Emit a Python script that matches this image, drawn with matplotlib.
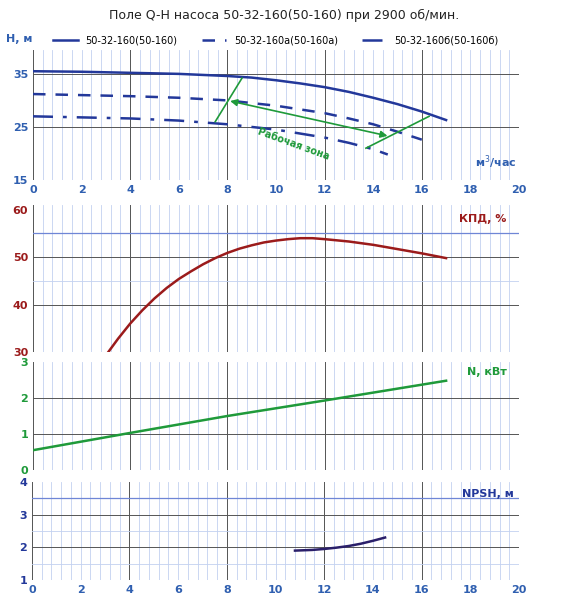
import matplotlib
matplotlib.use("Agg")
import matplotlib.pyplot as plt
import numpy as np

q_h = [0, 2, 4, 6, 8, 9, 10, 11, 12, 13, 14, 15, 16, 17]
h_main = [35.5, 35.4, 35.2, 35.0, 34.6, 34.3, 33.8, 33.2, 32.5, 31.6, 30.5, 29.3, 27.9, 26.3]
q_a = [0, 2, 4, 6, 8, 10, 12, 13, 14, 15, 16]
h_a = [31.2, 31.0, 30.8, 30.5, 30.0, 29.0, 27.6, 26.6, 25.5, 24.1, 22.6]
q_b = [0, 2, 4, 6, 8, 10, 12, 13, 14, 14.6]
h_b = [27.0, 26.8, 26.6, 26.2, 25.5, 24.5, 23.0, 22.0, 20.8, 19.8]
q_eff = [3.1, 3.5, 4, 4.5, 5, 5.5, 6, 6.5, 7, 7.5, 8, 8.5, 9, 9.5, 10, 10.5, 11, 11.5, 12, 13, 14, 15, 16, 17]
eff = [30, 32.8, 36, 38.8, 41.3, 43.5, 45.4, 47.0, 48.5, 49.8, 50.9, 51.8, 52.5, 53.1, 53.5, 53.8, 54.0, 54.0, 53.8, 53.3, 52.6, 51.7, 50.8, 49.8]
q_n = [0, 4, 8, 12, 17]
power = [0.55, 1.03, 1.5, 1.93, 2.48]
q_npsh = [10.8, 11.5, 12, 12.5, 13, 13.5, 14, 14.5]
npsh = [1.9, 1.92, 1.95, 1.99, 2.04, 2.11, 2.2, 2.3]
labels = ["50-32-160(50-160)", "50-32-160а(50-160а)", "50-32-160б(50-160б)"]

blue = "#23389a"; tick_blue = "#2f5fb0"; green = "#1f9a3a"; red = "#9b1b1b"
fig = plt.figure(figsize=(5.69, 6.0), dpi=100)
W = 569; H = 600
def ax_at(top, bot, left=33, right=519):
    return fig.add_axes([left/W, 1-bot/H, (right-left)/W, (bot-top)/H])

def style(ax, ylim, yticks, ymaj, ymin_h, color_lbl):
    ax.set_xlim(0, 20); ax.set_ylim(*ylim)
    ax.set_xticks(np.arange(0, 21, 2))
    ax.set_yticks(yticks)
    for x in np.arange(0, 20.01, 0.4):
        ax.axvline(x, color="#c3d1f0", lw=0.6, zorder=0)
    for x in range(0, 21, 4):
        ax.axvline(x, color="#555555", lw=0.7, zorder=0)
    for y in ymin_h:
        ax.axhline(y, color="#c3d1f0", lw=0.6, zorder=0)
    for y in ymaj:
        ax.axhline(y, color="#555555", lw=0.7, zorder=0)
    ax.tick_params(which="both", length=0, labelsize=8, colors=color_lbl)
    for t in ax.get_xticklabels(): t.set_color(tick_blue); t.set_fontweight("bold")
    for t in ax.get_yticklabels(): t.set_color(color_lbl); t.set_fontweight("bold")
    for s in ax.spines.values(): s.set_visible(False)

ax1 = ax_at(50, 180)
style(ax1, (15, 39.5), [15, 25, 35], [25, 35], [], tick_blue)
ax1.plot(q_h, h_main, color=blue, lw=1.8, label=labels[0])
ax1.plot(q_a, h_a, color=blue, lw=1.8, ls=(0, (5, 4)), label=labels[1])
ax1.plot(q_b, h_b, color=blue, lw=1.8, ls=(0, (8, 4, 1.5, 4)), label=labels[2])
ax1.plot([7.5, 8.6], [26, 34.2], color=green, lw=1.2)
ax1.plot([13.7, 16.3], [21, 27], color=green, lw=1.2)
ax1.annotate("", xy=(8.0, 30), xytext=(14.7, 23.2),
             arrowprops=dict(arrowstyle="<|-|>", color=green, lw=1.2))
ax1.text(10.7, 21.8, "Рабочая зона", color=green, fontsize=7, fontweight="bold",
         rotation=-20, ha="center", va="center")
ax1.text(0.0, 41.0, "Н, м", color=tick_blue, fontsize=8, fontweight="bold", ha="right")
ax1.text(19.9, 17.5, "м$^3$/час", color=tick_blue, fontsize=8, fontweight="bold", ha="right")
ax1.legend(loc="lower center", bbox_to_anchor=(0.5, 0.97), ncol=3, frameon=False,
           fontsize=7, handlelength=2.5, columnspacing=2.5)
fig.text(0.5, 1-15/H, "Поле Q-H насоса 50-32-160(50-160) при 2900 об/мин.",
         ha="center", va="center", fontsize=9, color="#222222")

ax2 = ax_at(205, 352)
style(ax2, (30, 61), [30, 40, 50, 60], [40, 50], [45, 55], red)
ax2.axhline(55, color="#6f86d6", lw=0.9, zorder=0)
ax2.plot(q_eff, eff, color=red, lw=1.8)
ax2.text(19.5, 57.5, "КПД, %", color=red, fontsize=8, fontweight="bold", ha="right")
ax2.set_xticklabels([])

ax3 = ax_at(362, 470)
style(ax3, (0, 3), [0, 1, 2, 3], [1, 2], [], green)
ax3.plot(q_n, power, color=green, lw=1.8)
ax3.text(19.5, 2.65, "N, кВт", color=green, fontsize=8, fontweight="bold", ha="right")
ax3.set_xticklabels([])

ax4 = ax_at(482, 580, left=32)
style(ax4, (1, 4), [1, 2, 3, 4], [2, 3], [1.5, 2.5], blue)
ax4.axhline(3.5, color="#6f86d6", lw=0.9, zorder=0)
ax4.plot(q_npsh, npsh, color="#2a1f6a", lw=1.8)
ax4.text(19.8, 3.55, "NPSH, м", color=blue, fontsize=8, fontweight="bold", ha="right")

fig.savefig("out.png", dpi=100)
